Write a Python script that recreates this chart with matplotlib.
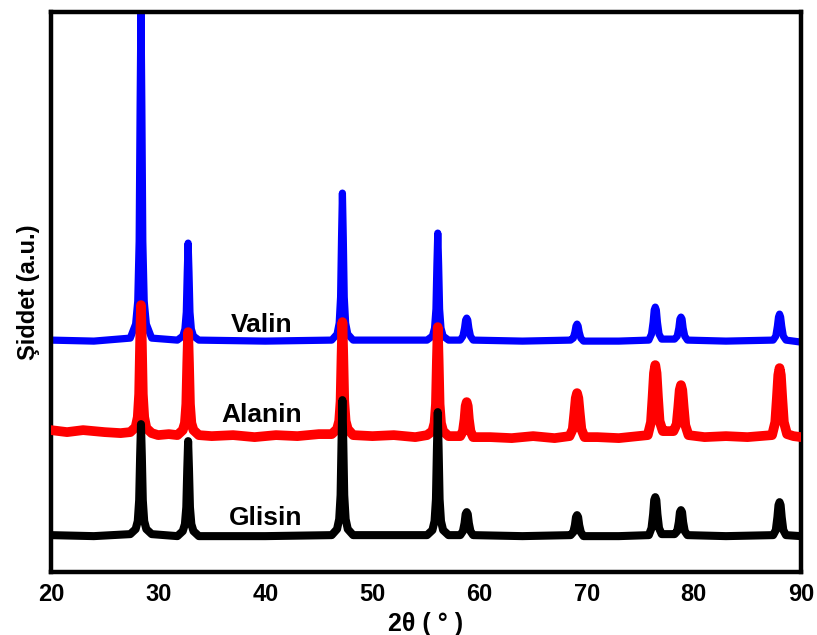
import matplotlib
matplotlib.use('Agg')
import matplotlib.pyplot as plt

# XRD desenleri, degerler (2θ, şiddet a.u.)
valin_x = [20.0, 24.0, 27.4, 27.9, 28.1, 28.23, 28.32, 28.4, 28.48, 28.57, 28.7, 28.9, 29.4,
           31.8, 32.3, 32.5, 32.63, 32.72, 32.8, 32.88, 32.97, 33.1, 33.3, 33.8,
           40.0, 46.2, 46.7, 46.9, 47.03, 47.12, 47.2, 47.28, 47.37, 47.5, 47.7, 48.2,
           55.1, 55.6, 55.8, 55.93, 56.02, 56.1, 56.18, 56.27, 56.4, 56.6, 57.1,
           58.2, 58.45, 58.6, 58.7, 58.8, 58.9, 59.0, 59.15, 59.4,
           64.0, 68.5, 68.75, 68.9, 69.0, 69.1, 69.2, 69.3, 69.45, 69.7,
           73.0, 75.8, 76.05, 76.2, 76.3, 76.4, 76.5, 76.6, 76.75, 77.0,
           78.2, 78.45, 78.6, 78.7, 78.8, 78.9, 79.0, 79.15, 79.4,
           83.0, 87.4, 87.65, 87.8, 87.9, 88.0, 88.1, 88.2, 88.35, 88.6, 90.0]
valin_y = [1, 0, 3, 17, 40, 100, 235, 335, 235, 100, 40, 17, 3,
           1, 5, 12, 29, 69, 98, 69, 29, 12, 5, 1,
           0, 1, 7, 18, 44, 104, 148, 104, 44, 18, 7, 1,
           1, 5, 13, 32, 76, 108, 76, 32, 13, 5, 1,
           1, 5, 13, 21, 23, 21, 13, 5, 1,
           0, 1, 3, 9, 15, 17, 15, 9, 3, 0,
           0, 1, 7, 19, 31, 34, 31, 19, 7, 2,
           2, 5, 13, 22, 24, 22, 13, 5, 1,
           0, 1, 5, 15, 24, 27, 24, 15, 5, 1, -1]

alanin_x = [20.0, 21.5, 23.0, 25.0, 26.5, 27.4, 27.9, 28.1, 28.23, 28.32, 28.4, 28.48, 28.57, 28.7, 28.9, 29.4, 30.0, 31.0,
            31.8, 32.3, 32.5, 32.63, 32.72, 32.8, 32.88, 32.97, 33.1, 33.3, 33.8,
            35.0, 37.0, 39.0, 41.0, 43.0, 45.0,
            46.2, 46.7, 46.9, 47.03, 47.12, 47.2, 47.28, 47.37, 47.5, 47.7, 48.2,
            50.0, 52.0, 54.0,
            55.1, 55.6, 55.8, 55.93, 56.02, 56.1, 56.18, 56.27, 56.4, 56.6, 57.1,
            58.2, 58.45, 58.6, 58.7, 58.8, 58.9, 59.0, 59.15, 59.4,
            61.0, 63.0, 65.0, 67.0,
            68.4, 68.7, 68.85, 68.98, 69.1, 69.22, 69.35, 69.5, 69.8,
            71.0, 73.0,
            75.7, 76.0, 76.15, 76.28, 76.4, 76.52, 76.65, 76.8, 77.1, 77.6,
            78.1, 78.4, 78.55, 78.68, 78.8, 78.92, 79.05, 79.2, 79.5,
            81.0, 83.0, 85.0,
            87.3, 87.6, 87.75, 87.88, 88.0, 88.12, 88.25, 88.4, 88.7, 89.3, 90.0]
alanin_y = [5, 3, 5, 3, 2, 3, 8, 18, 41, 92, 130, 92, 41, 18, 7, 2, 0, 1,
            0, 5, 12, 31, 72, 103, 72, 31, 12, 5, 0,
            -1, 0, -2, 0, -1, 1,
            1, 6, 14, 34, 79, 113, 79, 34, 14, 6, 0,
            -1, 0, -2,
            0, 4, 12, 31, 75, 108, 75, 31, 12, 4, -1,
            -1, 4, 16, 29, 33, 29, 16, 4, -2,
            -2, -3, -1, -3,
            -1, 6, 22, 37, 42, 37, 22, 6, -2,
            -2, -3,
            0, 13, 38, 62, 70, 62, 38, 14, 4, 4,
            4, 11, 28, 45, 50, 45, 28, 10, 0,
            -2, -1, -2,
            0, 13, 37, 60, 67, 60, 37, 13, 1, -1, -2]

glisin_x = valin_x
glisin_y = [1, 0, 2, 7, 15, 36, 80, 112, 80, 36, 15, 7, 2,
            0, 5, 12, 29, 67, 95, 67, 29, 12, 5, 0,
            0, 1, 7, 17, 41, 95, 136, 95, 41, 17, 7, 1,
            1, 6, 15, 37, 87, 124, 87, 37, 15, 6, 1,
            1, 5, 13, 22, 24, 22, 13, 5, 1,
            0, 1, 4, 11, 19, 21, 19, 11, 4, 0,
            0, 1, 8, 22, 36, 39, 36, 22, 8, 2,
            2, 5, 14, 24, 26, 24, 14, 5, 1,
            0, 1, 6, 19, 31, 34, 31, 19, 6, 1, 0]

names = ['Valin', 'Alanin', 'Glisin']
offsets = [231, 137, 36]
colors = ['#0000ff', '#ff0000', '#000000']
label_x = [39.7, 39.7, 40.0]
label_y = [247, 157, 54]

plt.rcParams['font.family'] = ['Liberation Sans', 'DejaVu Sans']

fig = plt.figure(figsize=(8.17, 6.35), dpi=100)
ax = fig.add_axes([0.0624, 0.099, 0.918, 0.882])

series = [(valin_x, valin_y), (alanin_x, alanin_y), (glisin_x, glisin_y)]
widths = [5.2, 7.0, 5.8]
for i, (xs, ys) in enumerate(series):
    ax.plot(xs, [v + offsets[i] for v in ys], color=colors[i], lw=widths[i],
            solid_joinstyle='round', solid_capstyle='round', zorder=2 + i)
    ax.text(label_x[i], label_y[i], names[i], ha='center', va='center',
            fontsize=19, fontweight='bold', zorder=10)

ax.set_xlim(20, 90)
ax.set_ylim(0, 560)
ax.set_xticks([20, 30, 40, 50, 60, 70, 80, 90])
ax.set_yticks([])
ax.tick_params(axis='x', length=0, pad=8, labelsize=17)
for lab in ax.get_xticklabels():
    lab.set_fontweight('bold')
for sp in ax.spines.values():
    sp.set_linewidth(3.2)

ax.set_xlabel('2θ ( ° )', fontsize=18, fontweight='bold', labelpad=4)
ax.set_ylabel('Şiddet (a.u.)', fontsize=17, fontweight='bold', labelpad=8)

fig.savefig('out.png', dpi=100)
